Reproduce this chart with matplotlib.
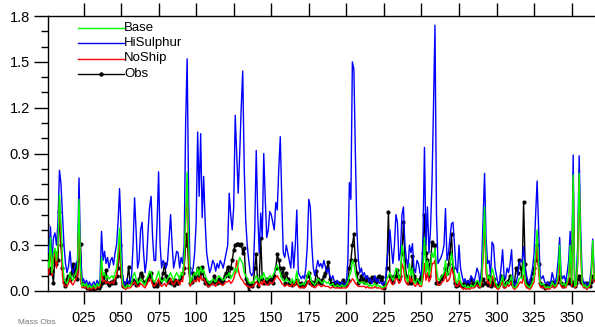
import numpy as np
import matplotlib
matplotlib.use("Agg")
import matplotlib.pyplot as plt

plt.rcParams['font.family'] = ['Liberation Sans', 'DejaVu Sans']

days = np.arange(1, 366)

hisulphur = [
    0.30, 0.25, 0.42, 0.20, 0.35, 0.38, 0.30, 0.45, 0.79, 0.70,
    0.50, 0.30, 0.18, 0.12, 0.16, 0.26, 0.15, 0.12, 0.15, 0.18,
    0.20, 0.74, 0.25, 0.06, 0.08, 0.05, 0.07, 0.04, 0.06, 0.03,
    0.05, 0.06, 0.03, 0.07, 0.04, 0.08, 0.39, 0.20, 0.26, 0.18,
    0.22, 0.15, 0.20, 0.22, 0.17, 0.25, 0.30, 0.45, 0.67, 0.40,
    0.10, 0.05, 0.04, 0.08, 0.05, 0.06, 0.10, 0.30, 0.61, 0.40,
    0.15, 0.20, 0.40, 0.45, 0.25, 0.12, 0.20, 0.40, 0.55, 0.62,
    0.35, 0.20, 0.20, 0.45, 0.78, 0.30, 0.15, 0.20, 0.18, 0.15,
    0.20, 0.35, 0.50, 0.30, 0.15, 0.20, 0.26, 0.25, 0.15, 0.22,
    0.18, 0.30, 1.10, 1.52, 0.60, 0.10, 0.12, 0.15, 0.25, 0.45,
    1.04, 0.62, 1.03, 0.48, 0.75, 0.45, 0.25, 0.18, 0.12, 0.15,
    0.20, 0.18, 0.13, 0.18, 0.15, 0.20, 0.18, 0.15, 0.20, 0.25,
    0.30, 0.64, 0.50, 0.40, 0.55, 1.15, 0.90, 0.64, 0.90, 1.20,
    1.44, 0.80, 0.46, 0.30, 0.20, 0.12, 0.10, 0.12, 0.40, 0.92,
    0.50, 0.25, 0.51, 0.35, 0.90, 0.60, 0.35, 0.40, 0.52, 0.50,
    0.45, 0.40, 0.58, 0.53, 0.80, 1.01, 0.60, 0.25, 0.22, 0.30,
    0.25, 0.20, 0.15, 0.32, 0.15, 0.30, 0.53, 0.12, 0.10, 0.08,
    0.10, 0.08, 0.15, 0.30, 0.60, 0.55, 0.30, 0.15, 0.10, 0.15,
    0.20, 0.16, 0.18, 0.15, 0.20, 0.16, 0.12, 0.15, 0.10, 0.08,
    0.10, 0.06, 0.05, 0.07, 0.05, 0.04, 0.06, 0.05, 0.04, 0.05,
    0.20, 0.71, 0.60, 1.50, 1.45, 0.90, 0.40, 0.20, 0.12, 0.15,
    0.10, 0.12, 0.08, 0.10, 0.06, 0.08, 0.05, 0.07, 0.10, 0.06,
    0.08, 0.05, 0.06, 0.04, 0.06, 0.05, 0.20, 0.29, 0.40, 0.28,
    0.18, 0.30, 0.50, 0.45, 0.20, 0.25, 0.50, 0.55, 0.30, 0.20,
    0.15, 0.30, 0.25, 0.31, 0.15, 0.12, 0.20, 0.18, 0.12, 0.10,
    0.35, 0.94, 0.30, 0.55, 0.25, 0.40, 0.70, 1.20, 1.74, 0.50,
    0.18, 0.20, 0.22, 0.25, 0.30, 0.54, 0.20, 0.25, 0.35, 0.44,
    0.45, 0.30, 0.15, 0.12, 0.30, 0.15, 0.10, 0.06, 0.08, 0.05,
    0.07, 0.05, 0.10, 0.08, 0.06, 0.10, 0.15, 0.12, 0.05, 0.15,
    0.45, 0.77, 0.35, 0.18, 0.20, 0.10, 0.32, 0.30, 0.15, 0.10,
    0.05, 0.06, 0.15, 0.27, 0.10, 0.08, 0.15, 0.12, 0.18, 0.27,
    0.06, 0.04, 0.05, 0.10, 0.18, 0.20, 0.19, 0.29, 0.15, 0.10,
    0.06, 0.05, 0.10, 0.15, 0.25, 0.50, 0.72, 0.40, 0.10, 0.08,
    0.10, 0.06, 0.05, 0.06, 0.04, 0.05, 0.12, 0.08, 0.05, 0.10,
    0.20, 0.35, 0.10, 0.08, 0.10, 0.06, 0.12, 0.20, 0.39, 0.10,
    0.89, 0.05, 0.06, 0.30, 0.885, 0.40, 0.10, 0.05, 0.06, 0.04,
    0.05, 0.06, 0.15, 0.34, 0.12,
]

base = [
    0.20, 0.15, 0.35, 0.12, 0.25, 0.28, 0.20, 0.30, 0.63, 0.45,
    0.20, 0.08, 0.06, 0.05, 0.08, 0.12, 0.08, 0.07, 0.10, 0.12,
    0.15, 0.60, 0.15, 0.03, 0.05, 0.03, 0.05, 0.02, 0.04, 0.02,
    0.03, 0.04, 0.02, 0.05, 0.03, 0.05, 0.22, 0.10, 0.12, 0.08,
    0.10, 0.08, 0.09, 0.10, 0.08, 0.12, 0.15, 0.25, 0.41, 0.20,
    0.05, 0.03, 0.02, 0.04, 0.03, 0.03, 0.05, 0.10, 0.12, 0.08,
    0.05, 0.06, 0.08, 0.06, 0.05, 0.04, 0.08, 0.10, 0.13, 0.12,
    0.08, 0.06, 0.07, 0.10, 0.13, 0.08, 0.06, 0.07, 0.08, 0.06,
    0.08, 0.10, 0.12, 0.09, 0.07, 0.10, 0.12, 0.10, 0.08, 0.12,
    0.10, 0.20, 0.50, 0.78, 0.30, 0.05, 0.08, 0.10, 0.12, 0.10,
    0.15, 0.10, 0.16, 0.12, 0.14, 0.10, 0.08, 0.06, 0.05, 0.06,
    0.08, 0.07, 0.06, 0.08, 0.10, 0.09, 0.08, 0.07, 0.08, 0.10,
    0.10, 0.12, 0.08, 0.10, 0.12, 0.15, 0.12, 0.18, 0.22, 0.20,
    0.18, 0.12, 0.10, 0.08, 0.06, 0.05, 0.06, 0.05, 0.08, 0.10,
    0.08, 0.06, 0.10, 0.08, 0.12, 0.09, 0.07, 0.08, 0.10, 0.09,
    0.10, 0.12, 0.15, 0.17, 0.14, 0.12, 0.08, 0.07, 0.06, 0.08,
    0.07, 0.06, 0.05, 0.08, 0.05, 0.07, 0.13, 0.05, 0.04, 0.04,
    0.05, 0.04, 0.06, 0.10, 0.13, 0.10, 0.06, 0.05, 0.04, 0.06,
    0.08, 0.07, 0.06, 0.05, 0.07, 0.06, 0.05, 0.06, 0.04, 0.04,
    0.05, 0.03, 0.03, 0.04, 0.03, 0.03, 0.04, 0.03, 0.03, 0.04,
    0.06, 0.10, 0.12, 0.20, 0.18, 0.12, 0.08, 0.06, 0.05, 0.06,
    0.05, 0.06, 0.04, 0.05, 0.03, 0.04, 0.03, 0.04, 0.05, 0.03,
    0.04, 0.03, 0.03, 0.02, 0.03, 0.03, 0.08, 0.10, 0.12, 0.09,
    0.07, 0.10, 0.15, 0.14, 0.08, 0.10, 0.30, 0.25, 0.12, 0.08,
    0.06, 0.18, 0.10, 0.15, 0.06, 0.05, 0.08, 0.07, 0.05, 0.04,
    0.15, 0.35, 0.12, 0.20, 0.10, 0.15, 0.25, 0.22, 0.28, 0.15,
    0.08, 0.07, 0.09, 0.10, 0.12, 0.20, 0.10, 0.12, 0.15, 0.25,
    0.18, 0.12, 0.06, 0.05, 0.12, 0.06, 0.04, 0.03, 0.04, 0.02,
    0.03, 0.02, 0.04, 0.03, 0.03, 0.05, 0.07, 0.06, 0.03, 0.08,
    0.25, 0.55, 0.20, 0.08, 0.10, 0.05, 0.15, 0.12, 0.06, 0.04,
    0.02, 0.03, 0.06, 0.10, 0.04, 0.03, 0.06, 0.05, 0.07, 0.10,
    0.03, 0.02, 0.03, 0.05, 0.08, 0.09, 0.08, 0.20, 0.06, 0.04,
    0.03, 0.02, 0.04, 0.06, 0.10, 0.25, 0.40, 0.18, 0.05, 0.04,
    0.05, 0.03, 0.02, 0.03, 0.02, 0.03, 0.06, 0.04, 0.03, 0.05,
    0.10, 0.30, 0.05, 0.04, 0.05, 0.03, 0.06, 0.10, 0.30, 0.05,
    0.76, 0.03, 0.04, 0.20, 0.77, 0.30, 0.06, 0.03, 0.04, 0.02,
    0.03, 0.04, 0.10, 0.33, 0.08,
]

noship = [
    0.10, 0.12, 0.30, 0.10, 0.22, 0.25, 0.15, 0.28, 0.60, 0.35,
    0.10, 0.04, 0.03, 0.03, 0.05, 0.08, 0.05, 0.04, 0.06, 0.08,
    0.10, 0.52, 0.08, 0.02, 0.03, 0.02, 0.03, 0.01, 0.02, 0.01,
    0.02, 0.02, 0.01, 0.03, 0.02, 0.03, 0.15, 0.06, 0.07, 0.05,
    0.06, 0.05, 0.05, 0.06, 0.05, 0.08, 0.10, 0.20, 0.36, 0.12,
    0.03, 0.02, 0.01, 0.02, 0.02, 0.02, 0.03, 0.05, 0.06, 0.04,
    0.03, 0.03, 0.05, 0.04, 0.03, 0.02, 0.04, 0.06, 0.08, 0.07,
    0.04, 0.03, 0.04, 0.06, 0.08, 0.04, 0.03, 0.04, 0.05, 0.03,
    0.05, 0.06, 0.08, 0.05, 0.04, 0.06, 0.07, 0.06, 0.04, 0.07,
    0.06, 0.15, 0.45, 0.68, 0.20, 0.03, 0.05, 0.06, 0.07, 0.06,
    0.09, 0.06, 0.10, 0.07, 0.08, 0.06, 0.04, 0.03, 0.03, 0.04,
    0.05, 0.04, 0.03, 0.05, 0.06, 0.05, 0.04, 0.04, 0.05, 0.06,
    0.06, 0.07, 0.05, 0.06, 0.08, 0.12, 0.20, 0.14, 0.10, 0.08,
    0.07, 0.05, 0.04, 0.03, 0.03, 0.02, 0.03, 0.03, 0.05, 0.06,
    0.05, 0.03, 0.06, 0.04, 0.07, 0.05, 0.04, 0.04, 0.06, 0.05,
    0.05, 0.07, 0.09, 0.10, 0.08, 0.07, 0.05, 0.04, 0.03, 0.04,
    0.04, 0.03, 0.03, 0.05, 0.03, 0.04, 0.07, 0.03, 0.02, 0.02,
    0.03, 0.02, 0.03, 0.05, 0.07, 0.05, 0.03, 0.03, 0.02, 0.03,
    0.04, 0.04, 0.03, 0.03, 0.04, 0.03, 0.03, 0.03, 0.02, 0.02,
    0.03, 0.02, 0.02, 0.02, 0.02, 0.02, 0.02, 0.02, 0.02, 0.02,
    0.03, 0.05, 0.06, 0.08, 0.07, 0.05, 0.04, 0.03, 0.03, 0.03,
    0.03, 0.03, 0.02, 0.03, 0.02, 0.02, 0.02, 0.02, 0.03, 0.02,
    0.02, 0.02, 0.02, 0.01, 0.02, 0.02, 0.04, 0.06, 0.08, 0.05,
    0.04, 0.06, 0.08, 0.08, 0.05, 0.06, 0.18, 0.15, 0.07, 0.05,
    0.04, 0.10, 0.06, 0.08, 0.04, 0.03, 0.05, 0.04, 0.03, 0.03,
    0.08, 0.18, 0.07, 0.12, 0.06, 0.08, 0.18, 0.18, 0.20, 0.08,
    0.04, 0.04, 0.05, 0.06, 0.07, 0.12, 0.06, 0.07, 0.09, 0.15,
    0.12, 0.07, 0.03, 0.03, 0.07, 0.03, 0.02, 0.01, 0.02, 0.01,
    0.02, 0.01, 0.02, 0.02, 0.02, 0.03, 0.04, 0.03, 0.02, 0.05,
    0.20, 0.45, 0.12, 0.05, 0.06, 0.03, 0.10, 0.08, 0.03, 0.02,
    0.01, 0.02, 0.04, 0.06, 0.02, 0.02, 0.04, 0.03, 0.04, 0.06,
    0.02, 0.01, 0.02, 0.03, 0.05, 0.06, 0.05, 0.10, 0.04, 0.02,
    0.02, 0.01, 0.02, 0.04, 0.06, 0.18, 0.32, 0.12, 0.03, 0.02,
    0.03, 0.02, 0.01, 0.02, 0.01, 0.02, 0.04, 0.02, 0.02, 0.03,
    0.07, 0.18, 0.03, 0.02, 0.03, 0.02, 0.04, 0.08, 0.22, 0.03,
    0.72, 0.02, 0.03, 0.17, 0.74, 0.25, 0.04, 0.02, 0.03, 0.01,
    0.02, 0.03, 0.08, 0.30, 0.06,
]

obs = [
    0.43, 0.15, 0.12, 0.13, 0.05, 0.25, 0.18, 0.20, 0.52, 0.30,
    0.15, 0.06, 0.03, 0.08, 0.10, 0.07, 0.12, 0.18, 0.10, 0.17,
    0.08, 0.20, 0.31, 0.05, 0.03, 0.04, 0.02, 0.03, 0.01, 0.02,
    0.03, 0.01, 0.02, 0.04, 0.02, 0.03, 0.05, 0.10, 0.06, 0.14,
    0.05, 0.04, 0.06, 0.05, 0.07, 0.05, 0.10, 0.15, 0.30, 0.10,
    0.03, 0.05, 0.04, 0.06, 0.16, 0.06, 0.05, 0.07, 0.06, 0.04,
    0.05, 0.08, 0.12, 0.10, 0.06, 0.05, 0.07, 0.08, 0.10, 0.12,
    0.06, 0.03, 0.04, 0.03, 0.05, 0.06, 0.08, 0.12, 0.18, 0.10,
    0.06, 0.08, 0.05, 0.06, 0.04, 0.07, 0.05, 0.05, 0.08, 0.10,
    0.12, 0.15, 0.30, 0.37, 0.15, 0.05, 0.06, 0.12, 0.08, 0.10,
    0.15, 0.10, 0.12, 0.16, 0.08, 0.05, 0.06, 0.04, 0.05, 0.06,
    0.05, 0.10, 0.06, 0.05, 0.08, 0.06, 0.05, 0.07, 0.10, 0.12,
    0.16, 0.10, 0.15, 0.20, 0.27, 0.30, 0.31, 0.31, 0.30, 0.31,
    0.25, 0.28, 0.08, 0.05, 0.00, 0.04, 0.03, 0.05, 0.15, 0.24,
    0.03, 0.07, 0.35, 0.08, 0.05, 0.06, 0.08, 0.05, 0.07, 0.08,
    0.05, 0.10, 0.15, 0.24, 0.20, 0.15, 0.10, 0.15, 0.05, 0.12,
    0.08, 0.05, 0.06, 0.04, 0.05, 0.05, 0.07, 0.05, 0.04, 0.05,
    0.03, 0.04, 0.06, 0.10, 0.12, 0.05, 0.06, 0.04, 0.05, 0.13,
    0.08, 0.06, 0.05, 0.07, 0.10, 0.12, 0.15, 0.19, 0.08, 0.05,
    0.04, 0.05, 0.06, 0.04, 0.05, 0.03, 0.05, 0.07, 0.04, 0.05,
    0.07, 0.15, 0.20, 0.30, 0.37, 0.20, 0.12, 0.05, 0.07, 0.10,
    0.08, 0.06, 0.09, 0.07, 0.08, 0.06, 0.09, 0.07, 0.08, 0.06,
    0.09, 0.10, 0.07, 0.09, 0.02, 0.05, 0.15, 0.52, 0.10, 0.08,
    0.06, 0.10, 0.10, 0.14, 0.08, 0.10, 0.25, 0.45, 0.20, 0.10,
    0.05, 0.06, 0.05, 0.23, 0.10, 0.08, 0.07, 0.06, 0.08, 0.10,
    0.25, 0.50, 0.25, 0.20, 0.10, 0.18, 0.32, 0.30, 0.30, 0.05,
    0.05, 0.05, 0.08, 0.10, 0.10, 0.15, 0.12, 0.18, 0.25, 0.37,
    0.15, 0.05, 0.03, 0.04, 0.05, 0.04, 0.03, 0.05, 0.04, 0.06,
    0.05, 0.04, 0.08, 0.05, 0.04, 0.05, 0.06, 0.03, 0.05, 0.04,
    0.08, 0.05, 0.05, 0.04, 0.10, 0.03, 0.05, 0.08, 0.04, 0.03,
    0.04, 0.05, 0.10, 0.08, 0.03, 0.05, 0.06, 0.07, 0.10, 0.05,
    0.04, 0.06, 0.15, 0.12, 0.20, 0.15, 0.10, 0.58, 0.18, 0.05,
    0.03, 0.05, 0.08, 0.12, 0.15, 0.20, 0.30, 0.18, 0.05, 0.03,
    0.04, 0.02, 0.04, 0.03, 0.05, 0.04, 0.06, 0.04, 0.05, 0.06,
    0.08, 0.10, 0.05, 0.03, 0.04, 0.05, 0.06, 0.05, 0.08, 0.04,
    0.06, 0.03, 0.05, 0.08, 0.10, 0.06, 0.05, 0.04, 0.03, 0.05,
    0.04, 0.03, 0.06, 0.10, 0.08,
]

xtick_vals = [25, 50, 75, 100, 125, 150, 175, 200, 225, 250, 275, 300, 325, 350]
xtick_labels = ['%03d' % v for v in xtick_vals]
ytick_vals = [0.0, 0.3, 0.6, 0.9, 1.2, 1.5, 1.8]

fig = plt.figure(figsize=(5.95, 3.27), dpi=100)
ax = fig.add_axes([48 / 595, 1 - 291 / 327, 548 / 595, 275 / 327])

ax.plot(days, obs, color='black', lw=1.0, marker='o', ms=2.0, zorder=2)
ax.plot(days, hisulphur, color='#0000ff', lw=1.0, zorder=3)
ax.plot(days, noship, color='#ff0000', lw=1.0, zorder=4)
ax.plot(days, base, color='#00ff00', lw=1.0, zorder=5)

ax.set_xlim(1.36, 366.2)
ax.set_ylim(0, 1.8)
ax.set_xticks(xtick_vals)
ax.set_xticklabels(xtick_labels)
ax.set_yticks(ytick_vals)
ax.set_yticklabels(['%.1f' % v for v in ytick_vals])
ax.set_yticks(np.arange(0, 1.81, 0.1), minor=True)

ax.tick_params(axis='x', which='major', direction='out', length=9.5, width=1.0,
               top=True, labeltop=False, labelsize=10.5, pad=5)
ax.tick_params(axis='y', which='major', direction='out', length=10, width=1.0,
               labelsize=10.5, pad=3)
ax.tick_params(axis='y', which='minor', direction='out', length=5, width=1.0)
ax.tick_params(axis='x', which='minor', bottom=False, top=False)
for s in ax.spines.values():
    s.set_linewidth(1.0)

# legend drawn by hand: short line segments with labels to their right
legend_items = [('Base', '#00ff00', None), ('HiSulphur', '#0000ff', None),
                ('NoShip', '#ff0000', None), ('Obs', 'black', 'o')]
x0, x1 = (78 - 48) / 548, (124 - 48) / 548
for i, (name, col, mk) in enumerate(legend_items):
    yy = 1 - (27.7 + 15.4 * i - 16) / 275
    ax.plot([x0, x1], [yy, yy], color=col, lw=1.0, transform=ax.transAxes, clip_on=False)
    if mk:
        ax.plot([(x0 + x1) / 2], [yy], color=col, marker=mk, ms=2.2,
                transform=ax.transAxes, clip_on=False)
    ax.text(x1, yy, name, fontsize=9.5, va='center', ha='left', transform=ax.transAxes)

fig.text(18 / 595, 1 / 327, 'Mass Obs', fontsize=6, color='#777777', va='bottom')

fig.savefig('out.png', dpi=100)
